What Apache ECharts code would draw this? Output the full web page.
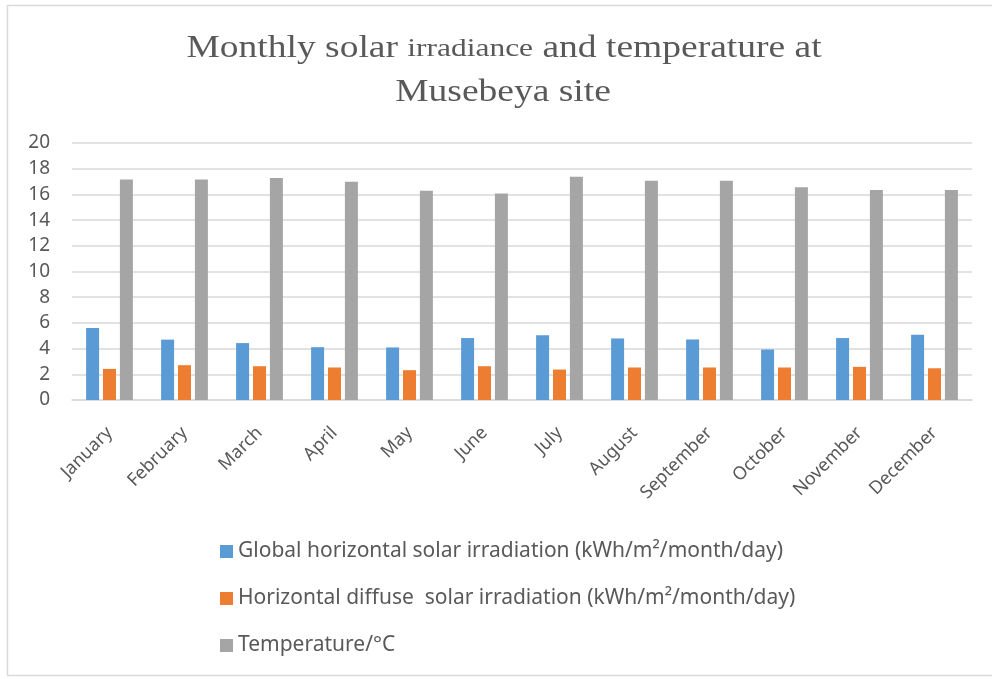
<!DOCTYPE html>
<html>
<head>
<meta charset="utf-8">
<script src="https://cdn.jsdelivr.net/npm/echarts@6/dist/echarts.min.js"></script>
<style>
  html, body { margin: 0; padding: 0; background: #fff; }
  #chart { width: 992px; height: 679px; }
</style>
</head>
<body>
<div id="chart"></div>
<script>
const months = ['January', 'February', 'March', 'April', 'May', 'June', 'July', 'August', 'September', 'October', 'November', 'December'];
const globalIrr = [5.6, 4.7, 4.43, 4.11, 4.09, 4.82, 5.03, 4.79, 4.71, 3.93, 4.82, 5.08];
const diffuseIrr = [2.42, 2.71, 2.63, 2.53, 2.32, 2.63, 2.37, 2.53, 2.53, 2.53, 2.58, 2.47];
const temperature = [17.16, 17.16, 17.27, 16.98, 16.28, 16.07, 17.37, 17.06, 17.06, 16.56, 16.35, 16.35];
const seriesNames = [
  'Global horizontal solar irradiation (kWh/m²/month/day)',
  'Horizontal diffuse  solar irradiation (kWh/m²/month/day)',
  'Temperature/°C'
];
const titleLines = [
  '{a|Monthly solar }{b|irradiance}{a| and temperature at}',
  '{a|Musebeya site}'
];

const chart = echarts.init(document.getElementById('chart'));
const textColor = '#595959';
// the title font in the picture is a wide-set serif; stretch it a bit
const titleRich = {
  a: { fontFamily: 'Liberation Serif', fontSize: 31, fill: textColor },
  b: { fontFamily: 'Liberation Serif', fontSize: 26, fill: textColor }
};

const option = {
  animation: false,
  backgroundColor: '#fff',
  color: ['#5B9BD5', '#ED7D31', '#A5A5A5'],
  graphic: [{
    type: 'rect',
    shape: { x: 7.5, y: 5.5, width: 1000, height: 670 },
    style: { fill: 'none', stroke: '#D9D9D9', lineWidth: 1.5 },
    silent: true
  }, {
    type: 'text',
    x: 504, y: 49, scaleX: 1.21,
    style: { text: titleLines[0], fill: textColor, align: 'center', verticalAlign: 'middle', rich: titleRich }
  }, {
    type: 'text',
    x: 503, y: 93, scaleX: 1.21,
    style: { text: titleLines[1], fill: textColor, align: 'center', verticalAlign: 'middle', rich: titleRich }
  }],
  grid: { left: 72, right: 20, top: 143, height: 257 },
  legend: {
    orient: 'vertical',
    left: 220,
    top: 541,
    padding: 0,
    itemWidth: 13,
    itemHeight: 13,
    itemGap: 26,
    icon: 'rect',
    textStyle: { fontFamily: 'Noto Sans', fontSize: 21, color: textColor },
    data: seriesNames
  },
  xAxis: {
    type: 'category',
    data: months,
    axisLine: { lineStyle: { color: '#D9D9D9', width: 1.5 } },
    axisTick: { show: false },
    axisLabel: {
      rotate: 45,
      margin: 30,
      interval: 0,
      fontFamily: 'Noto Sans',
      fontSize: 18,
      color: textColor
    }
  },
  yAxis: {
    type: 'value',
    min: 0,
    max: 20,
    interval: 2,
    axisLine: { show: false },
    axisTick: { show: false },
    axisLabel: { margin: 22, fontFamily: 'Noto Sans', fontSize: 19, color: textColor },
    splitLine: { lineStyle: { color: '#D9D9D9', width: 1.5 } }
  },
  series: [
    { name: seriesNames[0], type: 'bar', data: globalIrr, barWidth: 13, barGap: '30%' },
    { name: seriesNames[1], type: 'bar', data: diffuseIrr, barWidth: 13, barGap: '30%' },
    { name: seriesNames[2], type: 'bar', data: temperature, barWidth: 13, barGap: '30%' }
  ]
};

chart.setOption(option);
</script>
</body>
</html>
